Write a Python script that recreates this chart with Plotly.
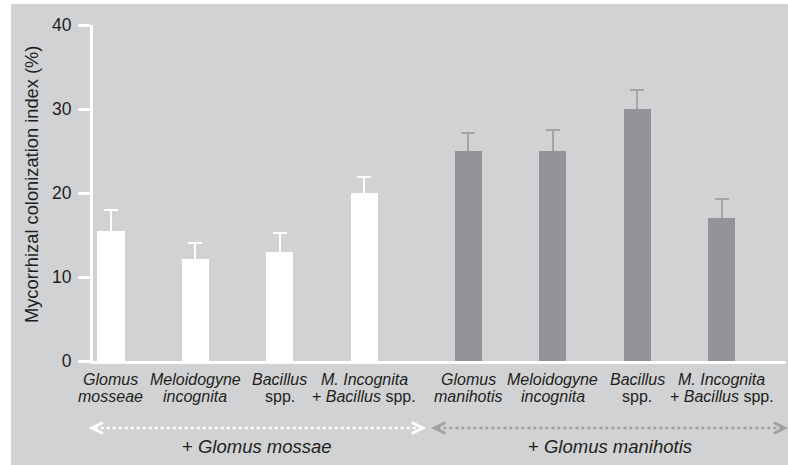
import plotly.graph_objects as go

# ---- data ----
group_names = ["+ <i>Glomus mossae</i>", "+ <i>Glomus manihotis</i>"]
label_line1 = ["<i>Glomus</i>", "<i>Meloidogyne</i>", "<i>Bacillus</i>", "<i>M. Incognita</i>",
               "<i>Glomus</i>", "<i>Meloidogyne</i>", "<i>Bacillus</i>", "<i>M. Incognita</i>"]
label_line2 = ["<i>mosseae</i>", "<i>incognita</i>", "spp.", "+ <i>Bacillus</i> spp.",
               "<i>manihotis</i>", "<i>incognita</i>", "spp.", "+ <i>Bacillus</i> spp."]
mossae_values = [15.5, 12.1, 13.0, 20.0]
mossae_errors = [2.5, 1.9, 2.2, 1.9]
manihotis_values = [25.0, 25.0, 30.0, 17.0]
manihotis_errors = [2.1, 2.5, 2.3, 2.3]
y_ticks = [0, 10, 20, 30, 40]
y_title = "Mycorrhizal colonization index (%)"

# ---- layout helpers ----
GAP = 0.23
x1 = [i for i in range(4)]
x2 = [4 + GAP + i for i in range(4)]
XMIN, XMAX = -0.213, 7.99
PLOT_L, PLOT_W, PLOT_B, PLOT_H = 93, 693, 361, 336
BG = "#d1d2d4"
FONT = "Liberation Sans, Arial, sans-serif"
TXT = "#231f20"
BAR2 = "#939497"
ERR2 = "#a3a4a6"
BW = 0.32

def px(xd):
    return (xd - XMIN) / (XMAX - XMIN)

def pxp(p):  # pixel x -> paper
    return (p - PLOT_L) / PLOT_W

def pyp(p):  # pixel y -> paper
    return (PLOT_B - p) / PLOT_H

fig = go.Figure()
# error bars first (transparent bars), then visible bars on top to hide the lower caps
for xs, vals, errs, col in [(x1, mossae_values, mossae_errors, "white"),
                            (x2, manihotis_values, manihotis_errors, ERR2)]:
    fig.add_trace(go.Bar(
        x=xs, y=vals, width=BW, marker=dict(color="rgba(0,0,0,0)", line=dict(width=0)),
        error_y=dict(type="data", symmetric=False, array=errs,
                     arrayminus=[0.4] * len(errs), color=col, thickness=2, width=7),
        showlegend=False, hoverinfo="skip"))
fig.add_trace(go.Bar(x=x1, y=mossae_values, width=BW,
                     marker=dict(color="white", line=dict(width=0)),
                     showlegend=False, hoverinfo="y"))
fig.add_trace(go.Bar(x=x2, y=manihotis_values, width=BW,
                     marker=dict(color=BAR2, line=dict(width=0)),
                     showlegend=False, hoverinfo="y"))

shapes = []
# white strips outside the grey panel (left and top)
shapes.append(dict(type="rect", xref="paper", yref="paper", x0=pxp(-20), x1=pxp(11),
                   y0=pyp(480), y1=pyp(-20), fillcolor="white", line=dict(width=0), layer="below"))
shapes.append(dict(type="rect", xref="paper", yref="paper", x0=pxp(-20), x1=pxp(800),
                   y0=pyp(4), y1=pyp(-20), fillcolor="white", line=dict(width=0), layer="below"))

annotations = []
# category labels (two lines each)
for xv, l1, l2 in zip(x1 + x2, label_line1, label_line2):
    for txt, yy in [(l1, 379), (l2, 396)]:
        annotations.append(dict(text=txt, xref="x", yref="paper", x=xv, y=pyp(yy),
                                showarrow=False, xanchor="center", yanchor="middle",
                                font=dict(family=FONT, size=16, color=TXT)))

# group brackets (dotted arrows)
spans = [(-0.225, 3.69, "white"), (3.83, 7.975, "#a0a1a3")]
ya = pyp(428)
hh = 5.5 / PLOT_H
aw = 11 / PLOT_W
for (a, b, col), name in zip(spans, group_names):
    pa, pb = px(a), px(b)
    shapes.append(dict(type="line", xref="paper", yref="paper", x0=pa + 0.004, x1=pb - 0.004,
                       y0=ya, y1=ya, line=dict(color=col, width=2.5, dash="dot")))
    shapes.append(dict(type="path", xref="paper", yref="paper",
                       path=f"M {pa+aw},{ya+hh} L {pa},{ya} L {pa+aw},{ya-hh}",
                       line=dict(color=col, width=3)))
    shapes.append(dict(type="path", xref="paper", yref="paper",
                       path=f"M {pb-aw},{ya+hh} L {pb},{ya} L {pb-aw},{ya-hh}",
                       line=dict(color=col, width=3)))
    annotations.append(dict(text=name, xref="paper", yref="paper", x=(pa + pb) / 2,
                            y=pyp(446), showarrow=False,
                            font=dict(family=FONT, size=18.5, color=TXT),
                            xanchor="center", yanchor="middle"))

# y-axis title
annotations.append(dict(text=y_title, xref="paper", yref="paper", x=pxp(31), y=pyp(185),
                        textangle=-90, showarrow=False, xanchor="center", yanchor="middle",
                        font=dict(family=FONT, size=18.3, color=TXT)))

fig.update_layout(
    width=788, height=465,
    margin=dict(l=PLOT_L, r=788 - PLOT_L - PLOT_W, t=PLOT_B - PLOT_H, b=465 - PLOT_B),
    paper_bgcolor=BG, plot_bgcolor=BG,
    font=dict(family=FONT, color=TXT),
    barmode="overlay", bargap=0,
    shapes=shapes, annotations=annotations,
    xaxis=dict(range=[XMIN, XMAX], showticklabels=False, ticks="",
               showgrid=False, zeroline=False, showline=True, linecolor="white",
               linewidth=3),
    yaxis=dict(range=[0, 40], tickvals=y_ticks, showgrid=False, zeroline=False,
               showline=True, linecolor="white", linewidth=3,
               ticks="outside", ticklen=12, tickwidth=3, tickcolor="white",
               ticklabelstandoff=3,
               tickfont=dict(family=FONT, size=17.5, color=TXT)),
)

fig.write_html("out.html", config={"displayModeBar": False},
               post_script="document.body.style.margin='0';")
